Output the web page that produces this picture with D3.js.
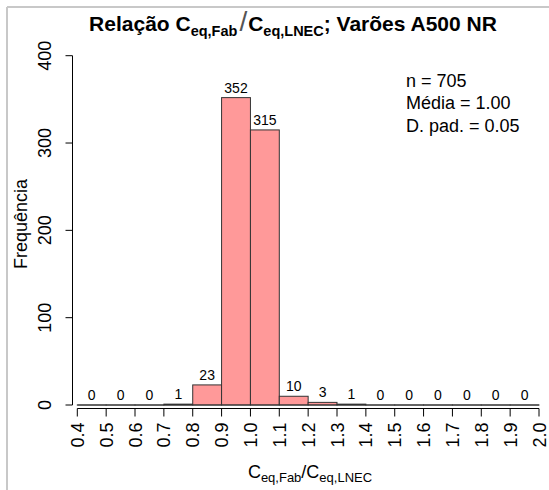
<!DOCTYPE html>
<html>
<head>
<meta charset="utf-8">
<script src="https://cdn.jsdelivr.net/npm/d3@7"></script>
<style>
  body { margin: 0; background: #fff; }
  text { font-family: "Liberation Sans", Arial, sans-serif; fill: #000; }
</style>
</head>
<body>
<svg id="hist"></svg>
<script>
// bin edges and counts
const binStarts = [0.4, 0.5, 0.6, 0.7, 0.8, 0.9, 1.0, 1.1, 1.2, 1.3, 1.4, 1.5, 1.6, 1.7, 1.8, 1.9];
const counts = [0, 0, 0, 1, 23, 352, 315, 10, 3, 1, 0, 0, 0, 0, 0, 0];
const xTicks = [0.4, 0.5, 0.6, 0.7, 0.8, 0.9, 1.0, 1.1, 1.2, 1.3, 1.4, 1.5, 1.6, 1.7, 1.8, 1.9, 2.0];
const yTicks = [0, 100, 200, 300, 400];
const statLines = ["n = 705", "Média = 1.00", "D. pad. = 0.05"];

const w = 549, h = 490;
const binWidth = 0.1;

const svg = d3.select("#hist").attr("width", w).attr("height", h);

// light frame (only top and left visible)
svg.append("line").attr("x1", 7).attr("x2", w).attr("y1", 7).attr("y2", 7)
    .attr("stroke", "#c8c8c8").attr("stroke-width", 2);
svg.append("line").attr("x1", 7).attr("x2", 7).attr("y1", 7).attr("y2", h)
    .attr("stroke", "#c8c8c8").attr("stroke-width", 2);

const xScale = d3.scaleLinear().domain([0.4, 2.0]).range([77.3, 539]);
const yScale = d3.scaleLinear().domain([0, 400]).range([405, 55.7]);

// bars (zero-height bins show as their outline only)
svg.append("g")
    .selectAll("rect")
    .data(binStarts)
    .join("rect")
    .attr("x", d => xScale(d))
    .attr("y", (d, i) => yScale(counts[i]))
    .attr("width", d => xScale(d + binWidth) - xScale(d))
    .attr("height", (d, i) => Math.max(yScale(0) - yScale(counts[i]), 0.01))
    .attr("fill", "#ff9999")
    .attr("stroke", "#333")
    .attr("stroke-width", 1);

svg.append("line")
    .attr("x1", xScale(0.4)).attr("x2", xScale(2.0))
    .attr("y1", yScale(0)).attr("y2", yScale(0))
    .attr("stroke", "#333");

// count labels
svg.append("g")
    .selectAll("text")
    .data(binStarts)
    .join("text")
    .attr("x", d => xScale(d + binWidth / 2))
    .attr("y", (d, i) => yScale(counts[i]) - 5)
    .attr("text-anchor", "middle")
    .style("font-size", "14px")
    .text((d, i) => counts[i]);

// x axis
const xAxis = svg.append("g").attr("transform", "translate(0,408.5)");
xAxis.append("line")
    .attr("x1", xScale(0.4)).attr("x2", xScale(2.0))
    .attr("stroke", "#000");
xAxis.selectAll(".tick")
    .data(xTicks)
    .join("line")
    .attr("x1", d => xScale(d)).attr("x2", d => xScale(d))
    .attr("y1", 0).attr("y2", 8)
    .attr("stroke", "#000");
xAxis.selectAll("text")
    .data(xTicks)
    .join("text")
    .attr("transform", d => `translate(${xScale(d) + 6.5},${14}) rotate(-90)`)
    .attr("text-anchor", "end")
    .style("font-size", "18px")
    .text(d => d.toFixed(1));

// y axis
const yAxis = svg.append("g").attr("transform", "translate(72.5,0)");
yAxis.append("line")
    .attr("y1", yScale(0)).attr("y2", yScale(400))
    .attr("stroke", "#000");
yAxis.selectAll(".tick")
    .data(yTicks)
    .join("line")
    .attr("y1", d => yScale(d)).attr("y2", d => yScale(d))
    .attr("x1", 0).attr("x2", -7)
    .attr("stroke", "#000");
yAxis.selectAll("text")
    .data(yTicks)
    .join("text")
    .attr("transform", d => `translate(-22,${yScale(d)}) rotate(-90)`)
    .attr("text-anchor", "middle")
    .style("font-size", "18px")
    .text(d => d);

// y label
svg.append("text")
    .attr("transform", "translate(27,224) rotate(-90)")
    .attr("text-anchor", "middle")
    .style("font-size", "18px")
    .text("Frequência");

// x label with subscripts
const xl = svg.append("text")
    .attr("x", 310).attr("y", 478)
    .attr("text-anchor", "middle")
    .style("font-size", "18px");
xl.append("tspan").text("C");
xl.append("tspan").attr("dy", 4).style("font-size", "13px").text("eq,Fab");
xl.append("tspan").attr("dy", -4).text("/C");
xl.append("tspan").attr("dy", 4).style("font-size", "13px").text("eq,LNEC");

// title
const title = svg.append("text")
    .attr("x", 293).attr("y", 31)
    .attr("text-anchor", "middle")
    .style("font-size", "21px")
    .style("font-weight", "bold");
title.append("tspan").text("Relação C");
title.append("tspan").attr("dy", 5).style("font-size", "14.5px").text("eq,Fab");
title.append("tspan").attr("dy", -5).attr("dx", 2).style("font-weight", "normal")
    .style("font-size", "28px").style("fill", "#555").text("/");
title.append("tspan").attr("dx", 1).text("C");
title.append("tspan").attr("dy", 5).style("font-size", "14.5px").text("eq,LNEC");
title.append("tspan").attr("dy", -5).text("; Varões A500 NR");

// summary stats
svg.append("g")
    .selectAll("text")
    .data(statLines)
    .join("text")
    .attr("x", 406)
    .attr("y", (d, i) => 86.5 + i * 22.5)
    .style("font-size", "18px")
    .text(d => d);
</script>
</body>
</html>
